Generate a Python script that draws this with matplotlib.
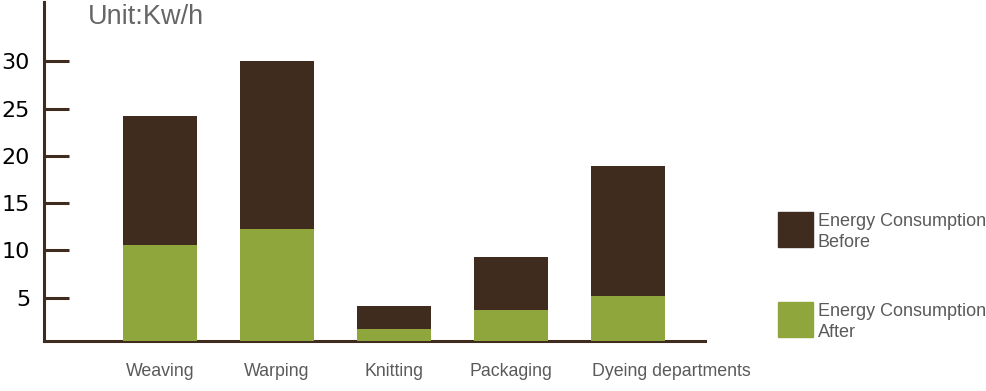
import matplotlib
matplotlib.use("Agg")
import matplotlib.pyplot as plt
from matplotlib.patches import Rectangle
from matplotlib.transforms import ScaledTranslation

categories = ["Weaving", "Warping", "Knitting", "Packaging", "Dyeing departments"]
before = [24.2, 30.0, 4.1, 9.3, 18.9]
after = [10.6, 12.3, 1.7, 3.7, 5.2]
yticks = [5, 10, 15, 20, 25, 30]

brown = "#3f2c1f"
green = "#8ea63c"
gray = "#5a5a5a"

plt.rcParams["font.family"] = ["Liberation Sans", "DejaVu Sans"]

fig = plt.figure(figsize=(9.87, 3.91), dpi=100)
ax = fig.add_axes([44/987, 1-341/391, (705-44)/987, (341-2)/391])

x = list(range(len(categories)))
ax.bar(x, before, width=0.63, color=brown, zorder=2)
ax.bar(x, after, width=0.63, color=green, zorder=3)

ax.set_xlim(-0.99, 4.66)
ax.set_ylim(0.4, 36.3)
ax.set_yticks(yticks)
ax.set_yticklabels([str(v) for v in yticks], fontsize=16, color="black",
                   family="DejaVu Sans")
ax.set_xticks(x)
ax.set_xticklabels(categories, fontsize=12.8, color=gray)
ax.tick_params(axis="y", direction="in", length=18, width=2.2, color=brown, pad=10)
ax.tick_params(axis="x", length=0, pad=16)

# last label sits right of its bar centre in the reference
lbl = ax.get_xticklabels()[-1]
lbl.set_transform(lbl.get_transform() + ScaledTranslation(0.44, 0, fig.dpi_scale_trans))

for s in ["top", "right"]:
    ax.spines[s].set_visible(False)
for s in ["left", "bottom"]:
    ax.spines[s].set_color(brown)
    ax.spines[s].set_linewidth(2.2)

fig.text(88/987, 1-17/391, "Unit:Kw/h", fontsize=19.5, color="#666666",
         va="center", ha="left")

# legend
leg = [(brown, 212, "Energy Consumption\nBefore"), (green, 302, "Energy Consumption\nAfter")]
for col, top, lab in leg:
    fig.add_artist(Rectangle((778/987, 1-(top+35)/391), 35/987, 35/391,
                             transform=fig.transFigure, color=col))
    fig.text(818/987, 1-(top+20)/391, lab, fontsize=13, color=gray,
             va="center", ha="left", linespacing=1.3)

fig.savefig("out.png", dpi=100)
